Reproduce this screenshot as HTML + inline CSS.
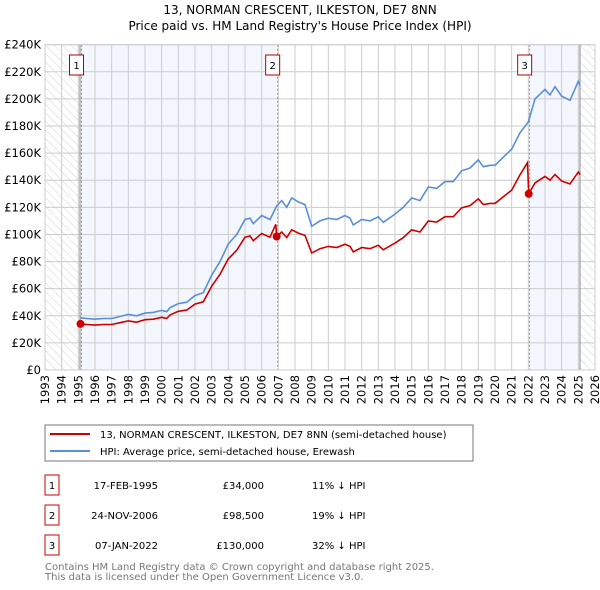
<!DOCTYPE html>
<html><head><meta charset="utf-8"><style>
body{margin:0;background:#fff;}
svg{display:block;font-family:"DejaVu Sans","Liberation Sans",sans-serif;}
</style></head><body>
<svg id="c" width="600" height="590" xmlns="http://www.w3.org/2000/svg">
<defs><pattern id="hatch" width="6" height="6" patternUnits="userSpaceOnUse" patternTransform="rotate(-45)"><rect width="6" height="6" fill="#fff"/><line x1="0" y1="0" x2="0" y2="6" stroke="#d4d4d4" stroke-width="1"/></pattern></defs>
<text x="300" y="14" text-anchor="middle" font-size="12">13, NORMAN CRESCENT, ILKESTON, DE7 8NN</text>
<text x="300" y="30" text-anchor="middle" font-size="12">Price paid vs. HM Land Registry's House Price Index (HPI)</text>
<g id="plot"></g>
<rect x="45" y="425" width="428" height="36" fill="#fff" stroke="#777"/>
<line x1="50" y1="434" x2="90" y2="434" stroke="#cc0000" stroke-width="2"/>
<text x="100" y="438" font-size="10">13, NORMAN CRESCENT, ILKESTON, DE7 8NN (semi-detached house)</text>
<line x1="50" y1="451" x2="90" y2="451" stroke="#5b8fd4" stroke-width="2"/>
<text x="100" y="455" font-size="10">HPI: Average price, semi-detached house, Erewash</text>
<g font-size="10" id="tbl"></g>
<text x="45" y="570" font-size="10" fill="#777">Contains HM Land Registry data © Crown copyright and database right 2025.</text>
<text x="45" y="580" font-size="10" fill="#777">This data is licensed under the Open Government Licence v3.0.</text>
</svg>
<script>
const hpiYears=[1995.1,1995.5,1996,1996.5,1997,1997.5,1998,1998.5,1999,1999.5,2000,2000.3,2000.5,2001,2001.5,2002,2002.5,2003,2003.5,2004,2004.5,2005,2005.3,2005.5,2006,2006.5,2006.9,2007.2,2007.5,2007.8,2008.2,2008.6,2009,2009.5,2010,2010.5,2011,2011.3,2011.5,2012,2012.5,2013,2013.3,2014,2014.5,2015,2015.5,2016,2016.5,2017,2017.5,2018,2018.5,2019,2019.3,2019.7,2020,2020.5,2021,2021.5,2022,2022.4,2023,2023.3,2023.6,2024,2024.5,2025,2025.1];
const hpiValues=[38.5,38,37.5,38,38,39.5,41,40,42,42.5,44,43,46,49,50,55,57,70,80,93,100,111,112,108,114,111,121,125,120,127,124,122,106,110,112,111,114,112,107,111,110,113,109,115,120,127,125,135,134,139,139,147,149,155,150,151,151,157,163,175,183,200,207,203,209,202,199,213,210];
const priceYears=[1995.1,1995.5,1996,1996.5,1997,1997.5,1998,1998.5,1999,1999.5,2000,2000.3,2000.5,2001,2001.5,2002,2002.5,2003,2003.5,2004,2004.5,2005,2005.3,2005.5,2006,2006.5,2006.85,2006.9,2007.2,2007.5,2007.8,2008.2,2008.6,2009,2009.5,2010,2010.5,2011,2011.3,2011.5,2012,2012.5,2013,2013.3,2014,2014.5,2015,2015.5,2016,2016.5,2017,2017.5,2018,2018.5,2019,2019.3,2019.7,2020,2020.5,2021,2021.5,2021.95,2022.02,2022.4,2023,2023.3,2023.6,2024,2024.5,2025,2025.1];
const priceValues=[34,33.6,33.1,33.6,33.6,34.9,36.2,35.3,37.1,37.5,38.9,38,40.6,43.3,44.2,48.6,50.3,61.8,70.6,82,88.3,98,98.9,95.4,100.7,98,107.5,98.5,101.8,97.7,103.4,101,99.3,86.3,89.5,91.2,90.4,92.8,91.2,87.1,90.4,89.5,92,88.7,93.6,97.7,103.4,101.8,109.9,109.1,113.1,113.1,119.7,121.3,126.2,122.1,122.9,122.9,127.8,132.7,144,153,130,138,142.8,140,144.2,139.4,137.3,146,144];
const saleYears=[1995.13,2006.9,2022.02];
const saleValues=[34,98.5,130];
const saleLabels=["1","2","3"];
const saleDates=["17-FEB-1995","24-NOV-2006","07-JAN-2022"];
const salePrices=["£34,000","£98,500","£130,000"];
const saleDiffs=["11% ↓ HPI","19% ↓ HPI","32% ↓ HPI"];
const yTicks=[0,20,40,60,80,100,120,140,160,180,200,220,240];
const xTicks=[1993,1994,1995,1996,1997,1998,1999,2000,2001,2002,2003,2004,2005,2006,2007,2008,2009,2010,2011,2012,2013,2014,2015,2016,2017,2018,2019,2020,2021,2022,2023,2024,2025,2026];

const NS="http://www.w3.org/2000/svg";
const X0=45,X1=595,Y0=370,Y1=44.7;
const x=v=>X0+(v-1993)/(2026-1993)*(X1-X0);
const y=v=>Y0-v/240*(Y0-Y1);
const g=document.getElementById('plot');
function mk(tag,attrs,parent){const e=document.createElementNS(NS,tag);for(const k in attrs)e.setAttribute(k,attrs[k]);(parent||g).appendChild(e);return e;}

let e;
e=mk('rect',{x:X0,y:Y1,width:X1-X0,height:Y0-Y1,fill:'#fff'});


e=mk('rect',{x:X0,y:Y1,width:x(1995.1)-X0,height:Y0-Y1,fill:'url(#hatch)'});


e=mk('rect',{x:x(2025.1),y:Y1,width:X1-x(2025.1),height:Y0-Y1,fill:'url(#hatch)'});


e=mk('rect',{x:x(saleYears[0]),y:Y1,width:x(saleYears[1])-x(saleYears[0]),height:Y0-Y1,fill:'#eef3fc',opacity:0.7});


e=mk('rect',{x:x(saleYears[2]),y:Y1,width:x(2025.1)-x(saleYears[2]),height:Y0-Y1,fill:'#eef3fc',opacity:0.7});



yTicks.forEach(t=>{
  e=mk('line',{x1:X0,x2:X1,y1:y(t),y2:y(t),stroke:'#ccc'});
  
  
  e=mk('text',{x:X0-4,y:y(t)+4,'text-anchor':'end','font-size':11.5});
  e.textContent=t===0?'£0':'£'+t+'K';
  
  
});
xTicks.forEach(t=>{
  e=mk('line',{x1:x(t),x2:x(t),y1:Y1,y2:Y0,stroke:'#ccc'});
  
  
  e=mk('text',{x:0,y:0,'text-anchor':'end','font-size':11.5,transform:`translate(${x(t)+4},${Y0+5}) rotate(-90)`});
  e.textContent=t;
  
  
});
e=mk('line',{x1:x(1995.1),x2:x(1995.1),y1:Y1,y2:Y0,stroke:'#888'});


e=mk('line',{x1:x(2025.1),x2:x(2025.1),y1:Y1,y2:Y0,stroke:'#888'});



saleYears.forEach((s,i)=>{
  e=mk('line',{x1:x(s)+1,x2:x(s)+1,y1:Y1,y2:Y0,stroke:'#e05050','stroke-dasharray':'2,2','stroke-width':0.8});
  
  
});

function pts(xs,vs){return xs.map((t,i)=>x(t).toFixed(1)+','+y(vs[i]).toFixed(1)).join(' ');}
e=mk('polyline',{points:pts(hpiYears,hpiValues),fill:'none',stroke:'#5b8fd4','stroke-width':1.6});


e=mk('polyline',{points:pts(priceYears,priceValues),fill:'none',stroke:'#cc0000','stroke-width':1.6});



saleYears.forEach((s,i)=>{
  e=mk('circle',{cx:x(s),cy:y(saleValues[i]),r:4,fill:'#cc0000'});
  
  
  const cx=x(s)-4;
  e=mk('rect',{x:cx-7,y:55,width:14,height:20,fill:'#fff',stroke:'#b00000'});
  
  
  e=mk('text',{x:cx,y:69,'text-anchor':'middle','font-size':10});
  e.textContent=saleLabels[i];
  
  
});
e=mk('rect',{x:X0,y:Y1,width:X1-X0,height:Y0-Y1,fill:'none',stroke:'#ccc'});



const tb=document.getElementById('tbl');
saleLabels.forEach((l,i)=>{
  const yy=475+i*30;
  e=mk('rect',{x:45,y:yy,width:14,height:20,fill:'#fff',stroke:'#cc0000'},tb);
  
  
  e=mk('text',{x:52,y:yy+14,'text-anchor':'middle'},tb);e.textContent=l;
  
  
  e=mk('text',{x:158,y:yy+14,'text-anchor':'end'},tb);e.textContent=saleDates[i];
  
  
  e=mk('text',{x:264,y:yy+14,'text-anchor':'end'},tb);e.textContent=salePrices[i];
  
  
  e=mk('text',{x:312,y:yy+14},tb);e.textContent=saleDiffs[i];
  
  
});
</script>
</body></html>
